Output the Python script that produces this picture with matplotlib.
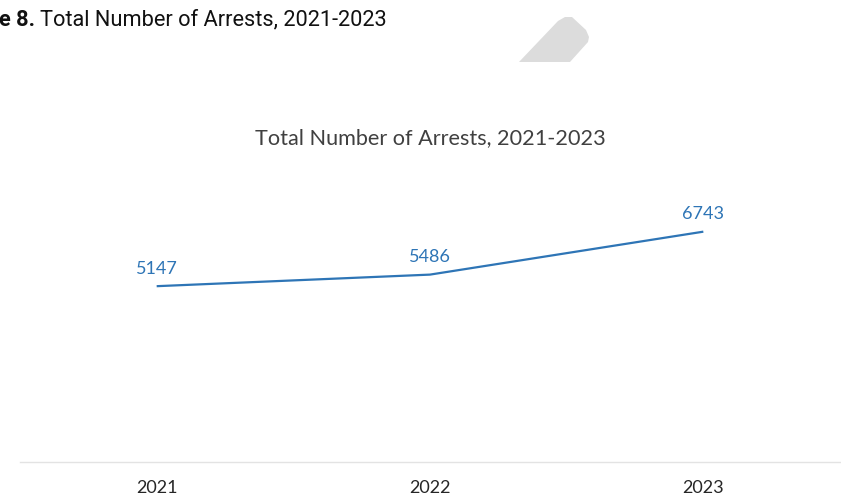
import matplotlib
matplotlib.use("Agg")
import matplotlib.pyplot as plt
from matplotlib.patches import Polygon

# arrest totals per year
years = ["2021", "2022", "2023"]
arrests = [5147, 5486, 6743]

W, H = 841, 496
fig = plt.figure(figsize=(W / 100, H / 100), dpi=100)

def px(x, y):
    return (x / W, 1 - y / H)

# plot area: baseline at y=462, top at y=186
ax = fig.add_axes([20 / W, (H - 462) / H, 820 / W, 276 / H])
xs = list(range(len(years)))
ax.plot(xs, arrests, color="#2E75B6", lw=1.6, solid_capstyle="butt")
for x, v in zip(xs, arrests):
    ax.annotate(str(v), (x, v), xytext=(0, 12.5), textcoords="offset points",
                ha="center", va="center", color="#2E75B6", fontsize=13, family="Lato")

ax.set_xlim(-0.5, 2.5)
ax.set_ylim(0, 8080)
ax.set_yticks([])
ax.set_xticks(xs)
ax.set_xticklabels(years, family="Lato", fontsize=13, color="#262626")
ax.tick_params(axis="x", length=0, pad=13)
for side in ["top", "right", "left"]:
    ax.spines[side].set_visible(False)
ax.spines["bottom"].set_color("#e3e3e3")
ax.spines["bottom"].set_linewidth(1)

# chart title
fig.text(*px(430, 138), "Total Number of Arrests, 2021-2023", ha="center", va="center",
         family="Lato", fontsize=15.6, color="#404040")

# figure caption (cut at the left edge)
fig.text(*px(-1, 20), "e 8.", ha="left", va="center", family="Roboto",
         fontsize=15.7, fontweight="bold", color="#111111")
fig.text(*px(40, 20), "Total Number of Arrests, 2021-2023", ha="left", va="center",
         family="Roboto", fontsize=15.7, color="#111111")

# light gray tab shape at the top
shape = [px(519, 62), px(558, 21), px(565, 17), px(572, 17), px(586, 30),
         px(589, 37), px(588, 42), px(570, 62)]
fig.patches.append(Polygon(shape, closed=True, transform=fig.transFigure,
                           facecolor="#dcdcdc", edgecolor="none"))

fig.savefig("out.png", dpi=100)
